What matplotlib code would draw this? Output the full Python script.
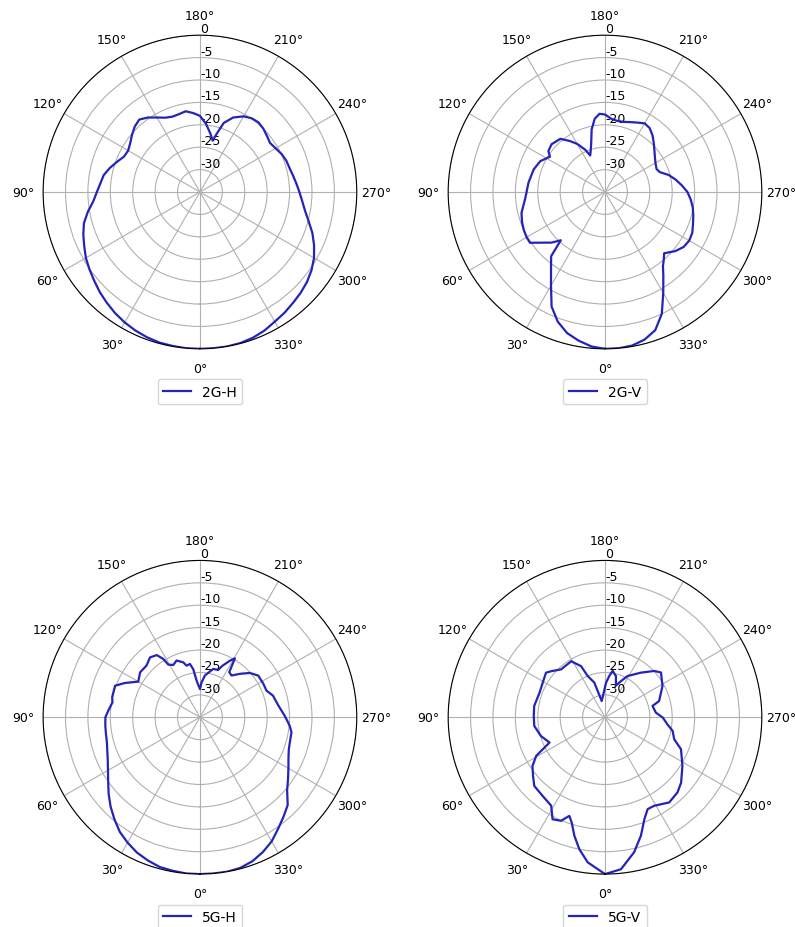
import numpy as np
import matplotlib
matplotlib.use('Agg')
import matplotlib.pyplot as plt

# angles in degrees, gain in dB
ang_2g_h = [0, 5, 10, 15, 20, 25, 30, 35, 40, 45, 50, 55, 60, 65, 70, 75, 80, 85, 90,
            95, 100, 105, 110, 115, 120, 125, 130, 135, 140, 145, 150, 155, 160, 165,
            170, 175, 180, 185, 190, 194, 196, 199, 204, 210, 215, 220, 225, 230,
            235, 240, 245, 250, 255, 260, 265, 270, 275, 280, 285, 290, 295, 300,
            305, 310, 315, 320, 325, 330, 335, 340, 345, 350, 355, 360]
db_2g_h = [0.0, 0.0, -0.1, -0.2, -0.5, -0.9, -1.4, -2.0, -2.7, -3.4, -4.2, -4.9, -5.6,
           -6.5, -7.3, -8.2, -9.6, -11.1, -12.0, -12.7, -13.2, -14.2, -15.3, -16.3,
           -16.5, -16.0, -15.2, -14.4, -13.9, -14.7, -15.8, -16.7, -17.1, -17.0,
           -16.7, -17.3, -18.0, -19.7, -21.7, -23.2, -21.5, -18.7, -16.8, -15.5,
           -14.9, -14.7, -15.0, -15.5, -15.9, -15.5, -14.9, -14.5, -14.3, -13.9,
           -13.4, -12.8, -12.1, -11.2, -9.9, -8.3, -6.9, -5.6, -4.6, -3.8, -3.2,
           -2.7, -2.1, -1.6, -0.9, -0.4, -0.1, 0.0, 0.0, 0.0]

ang_2g_v = [0, 5, 10, 15, 20, 25, 30, 35, 40, 42.5, 46.5, 50.6, 55.9, 60, 65, 70, 76,
            85, 90, 97, 107.6, 115.5, 122.7, 125.9, 131.8, 140, 145.5, 150, 155, 158,
            161, 164, 168, 172, 176, 180, 185, 190, 195, 200, 205, 210, 215, 220, 225,
            230, 235, 240, 246, 250, 255, 260, 265, 270, 275, 280, 285, 290, 295, 300,
            305, 310, 313, 316, 319, 322, 325, 330, 335, 340, 345, 350, 355, 360]
db_2g_v = [0.0, -0.4, -1.3, -2.4, -4.2, -6.8, -10.9, -14.0, -16.3, -20.4, -18.6, -17.2,
           -14.8, -14.8, -15.0, -15.3, -15.8, -17.1, -17.5, -17.8, -18.3, -19.0, -20.4,
           -19.4, -19.0, -19.5, -21.2, -22.6, -24.6, -26.2, -25.2, -23.8, -20.7, -18.5,
           -17.5, -17.7, -18.6, -18.9, -18.8, -18.4, -17.9, -17.3, -17.6, -18.5, -19.6,
           -20.6, -21.4, -22.0, -22.4, -22.0, -20.3, -19.0, -17.8, -16.6, -15.8, -15.1,
           -14.6, -14.1, -13.5, -13.3, -13.6, -14.5, -15.3, -16.0, -15.0, -14.0, -12.3,
           -9.0, -5.0, -2.2, -0.9, -0.2, 0.0, 0.0]

ang_5g_h = [0, 5, 10, 15, 20, 25, 30, 35, 40, 45, 50, 55, 60, 65, 70, 75, 80, 85, 90,
            94.2, 99.7, 103, 106.1, 110.4, 114.6, 120.0, 126.9, 134.1, 140.2, 145.2,
            147.8, 149.0, 153.0, 157.6, 163.1, 165.5, 169.4, 172.1, 174.8, 180.0,
            182.7, 186.8, 195.4, 201.0, 203.5, 207.9, 210.7, 213.0, 217.2, 222.7,
            228.4, 234.5, 242.2, 248.2, 253.5, 261.5, 268.9, 275.3, 279.3, 285, 290,
            295, 300, 305, 310, 315, 320, 325, 330, 335, 340, 345, 350, 355, 360]
db_5g_h = [0.0, 0.0, -0.2, -0.4, -1.0, -1.7, -2.7, -3.8, -5.3, -6.8, -8.4, -10.0,
           -11.3, -12.3, -13.0, -13.5, -13.7, -13.8, -13.9, -14.5, -15.2, -14.9, -14.9,
           -14.8, -16.6, -19.1, -18.3, -18.4, -17.6, -18.1, -19.6, -21.3, -21.9, -21.3,
           -22.2, -23.1, -22.9, -24.2, -26.8, -28.7, -27.2, -25.6, -23.8, -23.7, -22.5,
           -20.7, -19.7, -23.0, -23.3, -21.8, -20.1, -19.0, -19.0, -19.0, -18.0, -17.3,
           -16.1, -14.9, -14.3, -14.2, -13.9, -13.2, -12.2, -11.0, -9.6, -7.3, -6.0,
           -4.6, -3.0, -1.8, -0.8, -0.2, 0.0, 0.0, 0.0]

ang_5g_v = [0, 6.8, 11.0, 14.5, 17.6, 19.9, 23.0, 27.2, 31.3, 38.4, 45.8, 50.9,
            56.1, 60.7, 62.8, 65.5, 73.7, 83.0, 91.1, 99.1, 110.6, 119.1, 127.1,
            130.6, 137.5, 148.9, 154.9, 157.2, 162.9, 168.5, 174.6, 181.7, 186.0,
            189.4, 194.9, 199.0, 203.8, 208.7, 218.9, 226.8, 231.4, 241.5, 253.3,
            256.6, 264.8, 270.3, 276.4, 281.4, 287.6, 292.8, 302.1, 310.7, 316.0,
            323.0, 330.9, 335.1, 338.9, 343.1, 347.8, 354.0, 360]
db_5g_v = [0.0, -2.4, -5.0, -7.7, -10.4, -11.6, -9.9, -9.4, -11.9, -12.6, -13.0,
           -14.3, -15.5, -17.4, -19.4, -21.4, -20.1, -19.1, -19.1, -19.0, -19.4,
           -19.1, -18.5, -19.2, -20.5, -20.4, -22.4, -25.0, -26.9, -31.3, -30.2,
           -27.3, -25.7, -24.5, -25.5, -27.5, -26.2, -24.5, -22.2, -19.9, -19.0,
           -20.4, -22.4, -24.1, -23.6, -22.1, -21.0, -19.6, -18.8, -16.6, -14.6,
           -12.6, -11.7, -11.2, -12.4, -12.4, -10.6, -7.4, -4.2, -0.9, 0.0]

labels = ['2G-H', '2G-V', '5G-H', '5G-V']
angles = [ang_2g_h, ang_2g_v, ang_5g_h, ang_5g_v]
gains = [db_2g_h, db_2g_v, db_5g_h, db_5g_v]
r_ticks = [-30, -25, -20, -15, -10, -5, 0]

fig = plt.figure(figsize=(7.95, 9.28), dpi=100)

# axes positions in figure fraction
positions = [
    [0.054, 0.623, 0.395, 0.338],
    [0.5635, 0.623, 0.395, 0.338],
    [0.054, 0.057, 0.395, 0.338],
    [0.5635, 0.057, 0.395, 0.338],
]

for pos, lab, ang, g in zip(positions, labels, angles, gains):
    ax = fig.add_axes(pos, projection='polar')
    ax.set_theta_zero_location('S')
    ax.set_theta_direction(-1)
    ax.plot(np.deg2rad(ang), g, color='#2424b8', linewidth=1.6, label=lab)
    ax.set_ylim(-35, 0)
    ax.set_yticks(r_ticks)
    ax.set_yticklabels([str(t) for t in r_ticks])
    ax.set_rlabel_position(180)
    ax.set_thetagrids(range(0, 360, 30))
    ax.tick_params(labelsize=9)
    ax.legend(loc='upper center', bbox_to_anchor=(0.5, -0.075))

plt.savefig('out.png', dpi=100)
